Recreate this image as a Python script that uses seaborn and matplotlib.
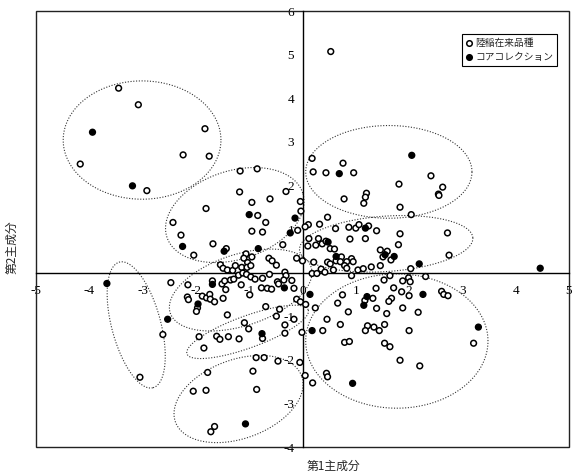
import numpy as np
import pandas as pd
import seaborn as sns
import matplotlib.pyplot as plt
from matplotlib.lines import Line2D
from matplotlib.patches import Rectangle

# 陸稲在来品種 (open circles): 第1主成分, 第2主成分
land_x = [-3.45, -3.08, -1.83, -2.24, -1.75, -4.17, -2.92,
          0.53,
          0.18, 0.76, 0.20, 0.44, 0.96, 2.41, 1.81, 2.63, 2.55, 2.56, 1.20, 1.18, 0.78, 1.15, 1.83, 2.04,
          -1.17, -0.85, -1.18, -0.95, -0.61, -0.31, -1.81, -0.84, -0.69, -2.43, -2.28, -0.95, -0.75, -0.04,
          -0.03, -0.09, -0.37, -1.68, -1.43, -2.04, -1.06, -0.95, -1.10, -1.03, -0.11, -0.63, 0.00,
          0.11, 0.32, 0.05, 0.47, 0.62, 0.87, 1.00, 1.06, 1.24, 1.39, 1.83, 2.72, 0.12, 0.30, 0.10, 0.25,
          0.37, 0.44, 0.89, 1.18, 1.80, 0.52, 0.60, 1.46, 1.59, 1.51, 1.66, 2.75, 0.73, 0.92, 0.21, 0.47,
          0.63, 0.71, 0.83, 0.95, 0.79, 0.83, 0.52, 0.35, 0.58, 0.42, 0.18, 0.27, 1.04, 1.14, 1.29, 1.46, 2.03,
          -1.54, -1.49, -1.41, -1.31, -1.26, -1.14, -1.04, -0.97, -1.20, -1.12, -1.05, -0.97, -0.89, -0.75,
          -0.57, -0.49, -0.62, -0.47, -0.45, -0.33, -0.31, -0.35, -0.20, -2.47, -2.15, -1.69, -1.51, -1.46,
          -1.35, -1.29, -1.15, -1.44, -0.77, -0.99, -0.66, -0.58, -0.16, -2.16, -2.14, -1.88, -1.80, -1.74,
          -1.73, -1.65, -1.49, -1.97, -1.99, -0.69, -1.41, -0.11, -0.04, 0.06, 0.24, -0.43,
          -1.09, -1.01, -0.75, -1.94, -1.61, -1.55, -1.39, -1.19, -1.85, -0.49, -0.16, -0.33, -0.33, -0.01,
          -2.62, -3.05,
          -0.87, -0.72, -0.46, -1.78, -0.93, -2.05, -1.81, -0.86, -1.65, -1.72,
          -0.05, 0.05, 0.19, 0.38, 0.46, 0.66, 0.75, 0.86, 0.71, 0.79, 0.88, 0.45, 0.47, 0.92, 1.64, 1.53,
          1.88, 1.99, 2.02, 2.31, 1.38, 1.71, 1.86, 2.00, 2.61, 2.65, 2.73, 1.32, 1.67, 1.62, 1.17, 1.39,
          1.88, 1.58, 2.17, 1.22, 1.34, 1.44, 1.18, 1.54, 2.00, 3.21, 1.54, 1.64, 1.83, 2.20]
land_y = [4.23, 3.85, 3.30, 2.70, 2.67, 2.49, 1.88,
          5.07,
          2.62, 2.51, 2.31, 2.29, 2.29, 2.22, 2.03, 1.96, 1.80, 1.77, 1.82, 1.73, 1.69, 1.59, 1.50, 1.33,
          2.33, 2.38, 1.85, 1.61, 1.69, 1.86, 1.47, 1.31, 1.15, 1.15, 0.86, 0.95, 0.93, 1.63,
          1.41, 0.97, 0.64, 0.66, 0.55, 0.40, 0.43, 0.36, 0.33, 0.23, 0.33, 0.33, 0.27,
          1.10, 1.11, 1.05, 1.27, 1.01, 1.04, 1.02, 1.10, 1.07, 0.96, 0.89, 0.91, 0.78, 0.78, 0.61, 0.63,
          0.66, 0.72, 0.77, 0.78, 0.64, 0.55, 0.54, 0.52, 0.49, 0.36, 0.29, 0.40, 0.36, 0.32, 0.24, 0.24,
          0.27, 0.25, 0.25, 0.25, 0.16, 0.10, 0.20, 0.08, 0.06, 0.01, -0.02, -0.02, 0.06, 0.09, 0.13, 0.16, 0.09,
          0.18, 0.10, 0.06, 0.05, 0.16, 0.12, 0.12, 0.16, -0.06, -0.01, -0.04, -0.10, -0.15, -0.13,
          0.27, 0.17, -0.04, -0.21, -0.26, 0.01, -0.07, -0.17, -0.18, -0.23, -0.28, -0.19, -0.26, -0.19,
          -0.17, -0.15, -0.28, -0.39, -0.35, -0.51, -0.36, -0.38, -0.36, -0.56, -0.62, -0.54, -0.58, -0.50,
          -0.61, -0.67, -0.59, -0.81, -0.89, -0.78, -0.97, -0.61, -0.67, -0.73, -0.81, -0.84,
          -1.15, -1.29, -1.51, -1.47, -1.46, -1.53, -1.47, -1.52, -1.73, -1.00, -1.07, -1.20, -1.39, -1.37,
          -1.42, -2.40,
          -1.95, -1.95, -2.03, -2.29, -2.26, -2.72, -2.70, -2.68, -3.53, -3.65,
          -2.06, -2.36, -2.53, -1.33, -1.07, -0.70, -0.51, -0.90, -1.19, -1.60, -1.58, -2.31, -2.39, -0.07, -0.07, -0.17,
          -0.19, -0.12, -0.21, -0.09, -0.36, -0.35, -0.44, -0.53, -0.43, -0.50, -0.53, -0.59, -0.59, -0.66, -0.64, -0.82,
          -0.81, -0.94, -0.91, -1.22, -1.25, -1.33, -1.33, -1.19, -1.33, -1.62, -1.62, -1.70, -2.01, -2.14]

# コアコレクション (filled circles)
core_x = [-3.94, -3.19, 2.05, 0.69, -1.00, -0.14, -0.23, -2.25, -1.47, -0.83, 1.18, 0.48, 1.55, 1.72,
          0.63, 2.19, -1.69, -0.34, -1.96, 0.14, -0.76, -3.67, -2.53, -1.07, 0.18, 0.94, 2.26, 1.21,
          1.15, 3.30, 4.46]
core_y = [3.22, 1.99, 2.69, 2.27, 1.33, 1.25, 0.91, 0.60, 0.49, 0.55, 1.02, 0.70, 0.41, 0.37,
          0.37, 0.20, -0.27, -0.35, -0.72, -0.50, -1.40, -0.25, -1.07, -3.47, -1.33, -2.54, -0.50, -0.55,
          -0.75, -1.25, 0.10]

groups = ["陸稲在来品種", "コアコレクション"]
x_ticks = [-5, -4, -3, -2, -1, 0, 1, 2, 3, 4, 5]
y_ticks = [-4, -3, -2, -1, 1, 2, 3, 4, 5, 6]

# group ellipses: centre, half axes (in x units), tilt in degrees as seen on the page
ell_cx = [-3.01, -1.27, 1.62, 1.57, -1.16, -1.03, -1.20, 1.77, -3.12]
ell_cy = [3.04, 1.32, 2.31, 0.66, -0.40, -1.36, -2.90, -1.57, -1.20]
ell_a = [1.48, 1.34, 1.56, 1.63, 1.39, 1.21, 1.26, 1.71, 1.22]
ell_b = [1.11, 0.83, 0.87, 0.52, 0.67, 0.30, 0.74, 1.26, 0.46]
ell_ang = [0, 18, 0, 4, 18, 20, 20, 0, -75]

df = pd.DataFrame({
    "pc1": land_x + core_x,
    "pc2": land_y + core_y,
    "group": [groups[0]] * len(land_x) + [groups[1]] * len(core_x),
})

sns.set_style("white")
plt.rcParams["font.family"] = ["Liberation Serif", "Noto Sans CJK JP"]

fig = plt.figure(figsize=(5.73, 4.76), dpi=100)
ax = fig.add_axes([36 / 573, 29 / 476, 533 / 573, 436 / 476])
ax.set_xlim(-5, 5)
ax.set_ylim(-4, 6)

# ellipses drawn in page proportions
bb = ax.get_position()
k = (bb.width * 5.73 / 10) / (bb.height * 4.76 / 10)
t = np.linspace(0, 2 * np.pi, 300)
for cx, cy, a, b, ang in zip(ell_cx, ell_cy, ell_a, ell_b, ell_ang):
    th = np.deg2rad(ang)
    u = a * np.cos(t)
    v = b * np.sin(t)
    ex = cx + u * np.cos(th) - v * np.sin(th)
    ey = cy + (u * np.sin(th) + v * np.cos(th)) * k
    ax.plot(ex, ey, ls=(0, (1, 1.5)), color="#333333", lw=0.8, zorder=2)

sns.scatterplot(data=df, x="pc1", y="pc2", hue="group",
                palette={groups[0]: "white", groups[1]: "black"},
                edgecolor="black", linewidth=1.1, s=17, legend=False, ax=ax, zorder=3)

# axes through the origin plus the outer frame
for side in ["left", "bottom"]:
    ax.spines[side].set_position(("data", 0))
    ax.spines[side].set_linewidth(1.0)
    ax.spines[side].set_color("black")
for side in ["top", "right"]:
    ax.spines[side].set_visible(False)
ax.add_patch(Rectangle((0, 0), 1, 1, transform=ax.transAxes, fill=False,
                       ec="#222222", lw=1.0, clip_on=False, zorder=1))

ax.set_xticks(x_ticks)
ax.set_yticks(y_ticks)
ax.set_xticklabels([str(v) for v in x_ticks])
ax.set_yticklabels([str(v) for v in y_ticks])
ax.tick_params(direction="in", length=3, width=0.8, labelsize=9.5, colors="black")
ax.tick_params(axis="x", pad=9)
ax.tick_params(axis="y", pad=6)
ax.set_xlabel("")
ax.set_ylabel("")

fig.text(333 / 573, 1 - 466 / 476, "第1主成分", ha="center", va="center",
         fontsize=8.5, family=["Noto Sans CJK JP"])
fig.text(12 / 573, 1 - 247 / 476, "第2主成分", ha="center", va="center",
         rotation=90, fontsize=8.5, family=["Noto Sans CJK JP"])

handles = [
    Line2D([], [], ls="", marker="o", ms=4, mfc="white", mec="black", mew=1.1),
    Line2D([], [], ls="", marker="o", ms=4, mfc="black", mec="black", mew=1.1),
]
leg = ax.legend(handles, groups, loc="upper left", bbox_to_anchor=(0.8, 0.947),
                frameon=True, fancybox=False, edgecolor="black", framealpha=1,
                handlelength=0.5, handletextpad=0.4, borderpad=0.4, labelspacing=0.45,
                borderaxespad=0, prop={"family": ["Noto Sans CJK JP"], "size": 7})
leg.get_frame().set_linewidth(0.8)

fig.savefig("out.png", dpi=100)
